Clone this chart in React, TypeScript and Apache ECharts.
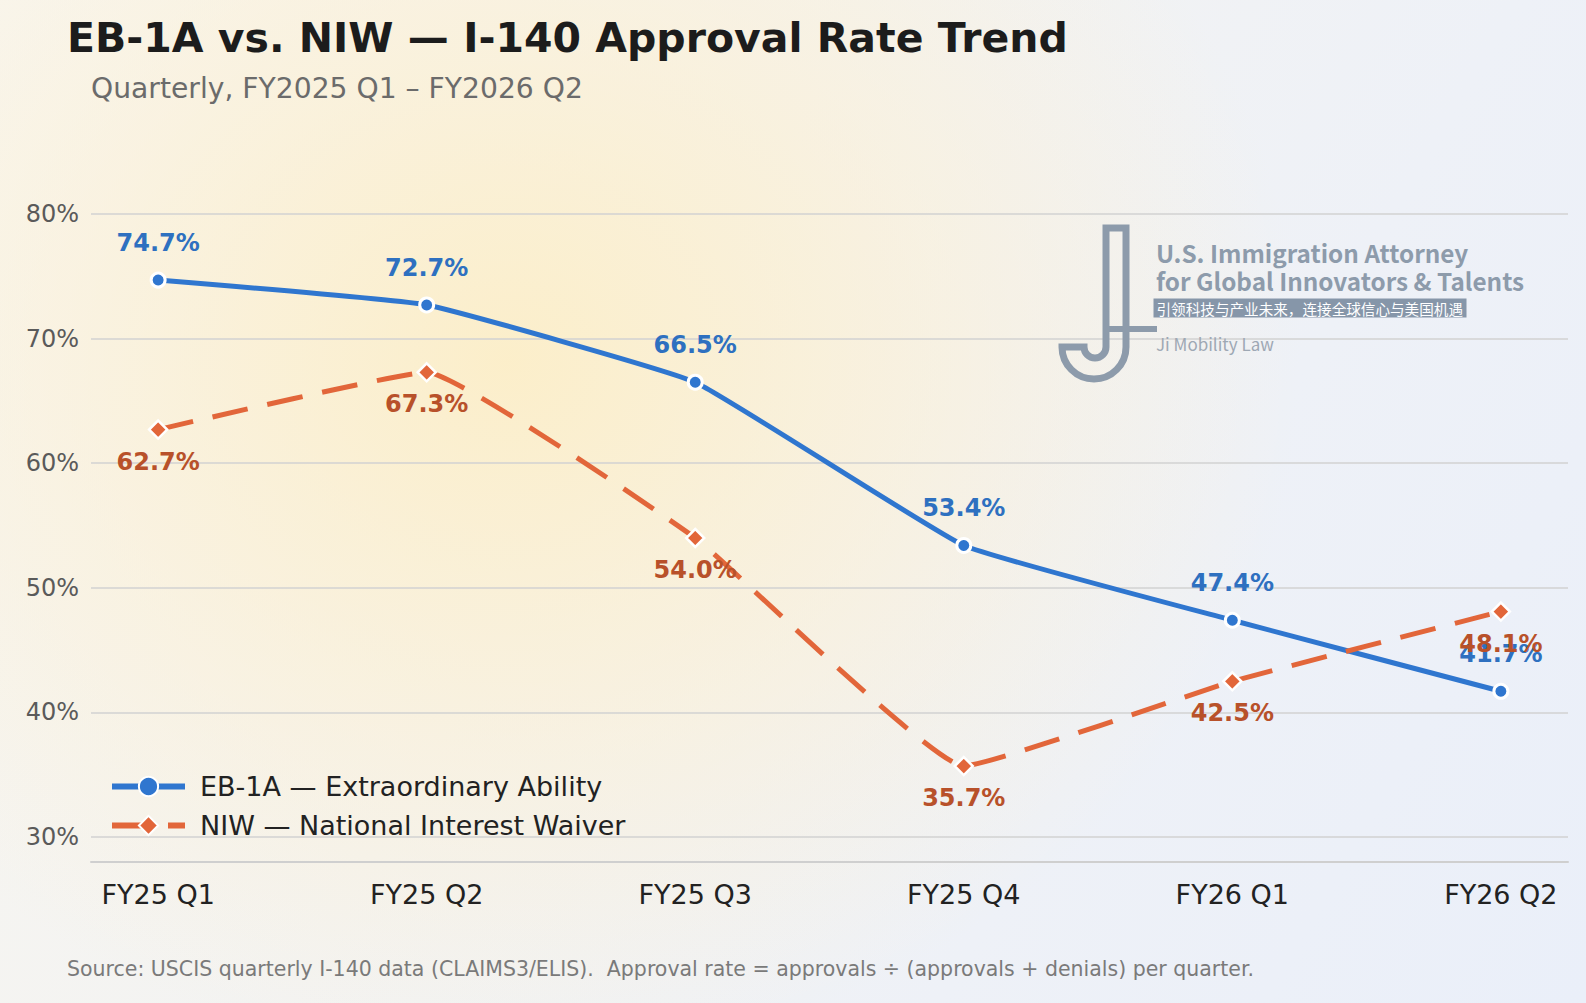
import React, { useEffect, useRef } from "react";
import * as echarts from "echarts";

const quarters = ["FY25 Q1", "FY25 Q2", "FY25 Q3", "FY25 Q4", "FY26 Q1", "FY26 Q2"];
const eb1aRates = [74.7, 72.7, 66.5, 53.4, 47.4, 41.7];
const niwRates = [62.7, 67.3, 54.0, 35.7, 42.5, 48.1];
const seriesNames = ["EB-1A — Extraordinary Ability", "NIW — National Interest Waiver"];
const yTickValues = [30, 40, 50, 60, 70, 80];

const TITLE = "EB-1A vs. NIW — I-140 Approval Rate Trend";
const SUBTITLE = "Quarterly, FY2025 Q1 – FY2026 Q2";
const SOURCE =
  "Source: USCIS quarterly I-140 data (CLAIMS3/ELIS).  Approval rate = approvals ÷ (approvals + denials) per quarter.";

const BLUE = "#2f76cf";
const BLUE_LABEL = "#2e70c0";
const ORANGE = "#e2663a";
const ORANGE_LABEL = "#b8512a";
const LOGO = "#8d9bab";
const FONT = "DejaVu Sans";

// J monogram outline (local coords, placed at 1050,220)
const J_PATH =
  "M 56 127 L 56 8 L 76 8 L 76 127 A 32 32 0 0 1 12 127 L 34 127 A 11 11 0 0 0 56 127 Z";

let registered = false;
function registerShapes() {
  if (registered) return;
  echarts.graphic.registerShape("jmark", echarts.graphic.extendPath(J_PATH, {}));
  registered = true;
}

export default function App() {
  const ref = useRef<HTMLDivElement>(null);

  useEffect(() => {
    if (!ref.current) return;
    registerShapes();
    const chart = echarts.init(ref.current, undefined, { renderer: "svg" });

    const option: any = {
      animation: false,
      backgroundColor: "transparent",
      grid: { left: 91, right: 18, top: 214, bottom: 141, containLabel: false },
      xAxis: {
        type: "value",
        min: -0.25,
        max: 5.25,
        splitNumber: 5,
        axisLine: { show: true, lineStyle: { color: "#cfcfcf", width: 2 } },
        axisTick: { show: false },
        splitLine: { show: false },
        axisLabel: {
          customValues: quarters.map((_, i) => i),
          formatter: (v: number) => (Number.isInteger(v) && quarters[v] ? quarters[v] : ""),
          color: "#222",
          fontSize: 27,
          fontFamily: FONT,
          margin: 19,
        },
      },
      yAxis: {
        type: "value",
        min: 28,
        max: 80,
        splitNumber: 5,
        axisLine: { show: false },
        axisTick: { show: false },
        splitLine: { show: true, lineStyle: { color: "#d2d2d2", width: 1.6 } },
        axisLabel: {
          formatter: (v: number) => (yTickValues.includes(v) ? `${v}%` : ""),
          color: "#5a5a5a",
          fontSize: 24,
          fontFamily: FONT,
          margin: 12,
        },
      },
      legend: {
        orient: "vertical",
        left: 109,
        top: 773,
        padding: 0,
        itemWidth: 73,
        itemHeight: 24,
        itemGap: 12,
        data: seriesNames,
        lineStyle: { width: 6 },
        textStyle: {
          fontSize: 27,
          color: "#222",
          fontFamily: FONT,
          padding: [0, 0, 0, 10],
        },
      },
      series: [
        {
          name: seriesNames[0],
          type: "line",
          data: eb1aRates.map((v, i) => [i, v]),
          smooth: 0.1,
          symbol: "circle",
          symbolSize: 14,
          z: 3,
          lineStyle: { color: BLUE, width: 5 },
          itemStyle: { color: BLUE, borderColor: "#ffffff", borderWidth: 3 },
          label: {
            show: true,
            position: "inside",
            offset: [0, -37],
            formatter: (p: any) => `${p.value[1].toFixed(1)}%`,
            color: BLUE_LABEL,
            fontSize: 24,
            fontWeight: "bold",
            fontFamily: FONT,
            textBorderWidth: 0,
          },
        },
        {
          name: seriesNames[1],
          type: "line",
          data: niwRates.map((v, i) => [i, v]),
          smooth: 0.1,
          symbol: "diamond",
          symbolSize: 18,
          z: 4,
          lineStyle: { color: ORANGE, width: 5, type: [36, 20] },
          itemStyle: { color: ORANGE, borderColor: "#ffffff", borderWidth: 2.5 },
          label: {
            show: true,
            position: "inside",
            offset: [0, 32],
            formatter: (p: any) => `${p.value[1].toFixed(1)}%`,
            color: ORANGE_LABEL,
            fontSize: 24,
            fontWeight: "bold",
            fontFamily: FONT,
            textBorderWidth: 0,
          },
        },
      ],
      graphic: [
        {
          type: "text",
          left: 67,
          top: 17,
          style: {
            text: TITLE,
            fontSize: 41,
            fontWeight: "bold",
            fontFamily: FONT,
            fill: "#1c1c1c",
          },
        },
        {
          type: "text",
          left: 91,
          top: 74,
          style: {
            text: SUBTITLE,
            fontSize: 28.2,
            fontFamily: FONT,
            fill: "#6b6b6b",
          },
        },
        {
          type: "text",
          left: 67,
          top: 958,
          style: {
            text: SOURCE,
            fontSize: 20.5,
            fontFamily: FONT,
            fill: "#7a7a7a",
          },
        },
        // logo
        {
          type: "jmark",
          x: 1050,
          y: 220,
          z: 1,
          style: { fill: "none", stroke: LOGO, lineWidth: 7 },
        },
        {
          type: "line",
          z: 1,
          shape: { x1: 1106, y1: 329, x2: 1157, y2: 329 },
          style: { stroke: LOGO, lineWidth: 6 },
        },
        {
          type: "text",
          x: 1156,
          y: 252,
          z: 1,
          style: {
            text: "U.S. Immigration Attorney",
            fontSize: 24.3,
            fontWeight: "bold",
            fontFamily: "Noto Sans CJK SC",
            fill: LOGO,
            verticalAlign: "middle",
          },
        },
        {
          type: "text",
          x: 1156,
          y: 280.5,
          z: 1,
          style: {
            text: "for Global Innovators & Talents",
            fontSize: 24.3,
            fontWeight: "bold",
            fontFamily: "Noto Sans CJK SC",
            fill: LOGO,
            verticalAlign: "middle",
          },
        },
        {
          type: "rect",
          z: 1,
          shape: { x: 1153.5, y: 298.5, width: 313, height: 19 },
          style: { fill: "#8696a9" },
        },
        {
          type: "text",
          x: 1156.5,
          y: 308,
          z: 2,
          style: {
            text: "引领科技与产业未来，连接全球信心与美国机遇",
            fontSize: 14.6,
            fontFamily: "Noto Sans CJK SC",
            fill: "#ffffff",
            verticalAlign: "middle",
          },
        },
        {
          type: "text",
          x: 1156,
          y: 343,
          z: 1,
          style: {
            text: "Ji Mobility Law",
            fontSize: 17,
            fontFamily: "Noto Sans CJK SC",
            fill: "#9ea8b4",
            verticalAlign: "middle",
          },
        },
      ],
    };

    chart.setOption(option);
    return () => chart.dispose();
  }, []);

  return (
    <div
      style={{
        position: "fixed",
        left: 0,
        top: 0,
        width: 1586,
        height: 1003,
        background:
          "radial-gradient(ellipse 50% 70% at 32% 36%, rgba(252,238,200,0.95) 0%, rgba(252,240,212,0.55) 55%, rgba(252,241,214,0) 100%), linear-gradient(120deg, #f8f6f0 0%, #f3f3f2 40%, #eef1f7 70%, #eaeff9 100%)",
      }}
    >
      <div ref={ref} style={{ width: 1586, height: 1003 }} />
    </div>
  );
}
